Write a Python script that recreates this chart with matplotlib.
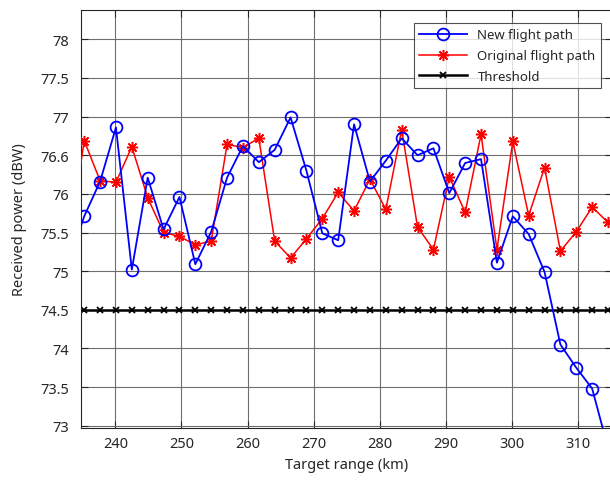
import matplotlib
matplotlib.use("Agg")
import matplotlib.pyplot as plt
from matplotlib.ticker import FixedLocator, FixedFormatter

plt.rcParams['font.family'] = ['Noto Sans', 'DejaVu Sans']

target_range = [232.9, 235.3, 237.7, 240.1, 242.5, 244.9, 247.3, 249.7, 252.1, 254.5,
                256.9, 259.3, 261.7, 264.1, 266.5, 268.9, 271.3, 273.7, 276.1, 278.5,
                280.9, 283.3, 285.7, 288.1, 290.5, 292.9, 295.3, 297.7, 300.1, 302.5,
                304.9, 307.3, 309.7, 312.1, 314.5, 316.9]

new_path = [75.10, 75.71, 76.16, 76.86, 75.02, 76.21, 75.54, 75.96, 75.09, 75.51,
            76.21, 76.62, 76.41, 76.57, 76.99, 76.30, 75.49, 75.40, 76.90, 76.16,
            76.43, 76.72, 76.50, 76.59, 76.01, 76.40, 76.45, 75.11, 75.71, 75.48,
            74.99, 74.05, 73.75, 73.48, 72.71]

orig_path = [75.30, 76.69, 76.17, 76.15, 76.61, 75.95, 75.50, 75.45, 75.34, 75.39,
             76.64, 76.60, 76.72, 75.39, 75.17, 75.42, 75.68, 76.02, 75.78, 76.19,
             75.80, 76.83, 75.57, 75.28, 76.22, 75.76, 76.77, 75.28, 76.68, 75.72,
             76.34, 75.26, 75.51, 75.83, 75.63]

threshold = [74.5] * len(target_range)

x_ticks = [240, 250, 260, 270, 280, 290, 300, 310]
y_ticks = [73, 73.5, 74, 74.5, 75, 75.5, 76, 76.5, 77, 77.5, 78]
y_tick_labels = ['73', '73.5', '74', '74.5', '75', '75.5', '76', '76.6', '77', '77.5', '78']

fig = plt.figure(figsize=(6.10, 4.81), dpi=100)
W, H = 610, 481
ax = fig.add_axes([80.5 / W, 52 / H, 531.5 / W, 418 / H])

ax.plot(target_range[:len(new_path)], new_path, color='#0000ff', lw=1.3,
        marker='o', ms=8.5, mfc='none', mec='#0000ff', mew=1.3,
        label='New flight path', zorder=4)
ax.plot(target_range[:len(orig_path)], orig_path, color='#ff0000', lw=1.1,
        marker=(8, 2, 0), ms=8, mec='#ff0000', mew=1.1,
        label='Original flight path', zorder=3)
ax.plot(target_range, threshold, color='black', lw=1.8,
        marker='x', ms=5, mew=1.3, label='Threshold', zorder=2)

ax.set_xlim(234.74, 315.1)
ax.set_ylim(72.97, 78.38)
ax.xaxis.set_major_locator(FixedLocator(x_ticks))
ax.yaxis.set_major_locator(FixedLocator(y_ticks))
ax.yaxis.set_major_formatter(FixedFormatter(y_tick_labels))

ax.grid(True, color='#6e6e6e', lw=0.8)
ax.set_axisbelow(True)
ax.tick_params(direction='in', length=5, width=0.8, top=True, right=True,
               labelsize=10.5, colors='#262626')
ax.tick_params(axis='y', pad=8)
ax.tick_params(axis='x', pad=6)
for s in ax.spines.values():
    s.set_color('#262626')
    s.set_linewidth(0.8)

ax.set_xlabel('Target range (km)', fontsize=10.5, color='#262626', labelpad=4)
ax.set_ylabel('Received power (dBW)', fontsize=10.5, color='#262626', labelpad=10)

leg = fig.legend(loc='upper right', bbox_to_anchor=(601 / W, 1 - 24 / H),
                 fontsize=9.5, frameon=True, fancybox=False, edgecolor='#262626',
                 handlelength=3.6, borderpad=0.4, labelspacing=0.6,
                 handletextpad=0.8, borderaxespad=0)
leg.get_frame().set_linewidth(0.8)
for t in leg.get_texts():
    t.set_color('#262626')

fig.savefig('out.png', dpi=100)
